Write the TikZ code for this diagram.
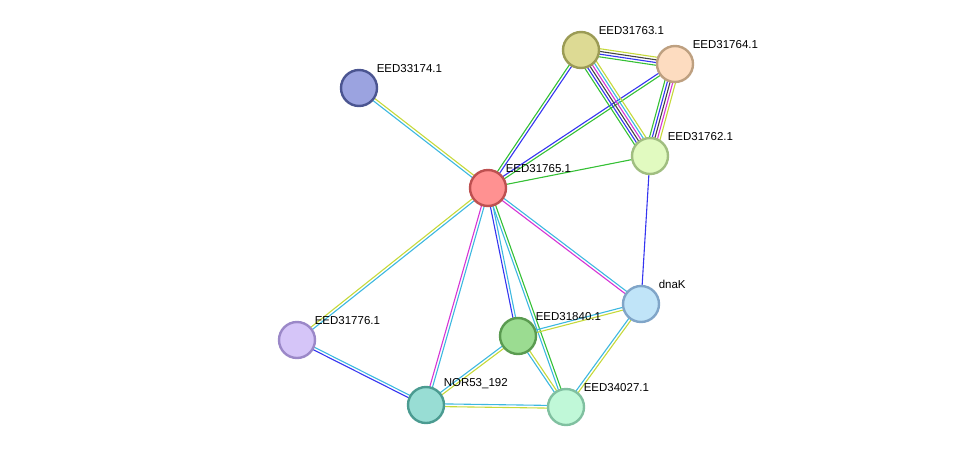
\documentclass[tikz,border=0pt]{standalone}
\usepackage{fontspec}
\setmainfont{Liberation Sans}
\usetikzlibrary{calc,backgrounds}
\definecolor{ey}{HTML}{C6D93A}
\definecolor{ec}{HTML}{3DB8E0}
\definecolor{eb}{HTML}{3535F0}
\definecolor{eg}{HTML}{35C035}
\definecolor{em}{HTML}{D535D5}
\definecolor{ek}{HTML}{444444}
\newcommand{\link}[4]{% from, to, count, colours
  \foreach \c [count=\i] in {#4}
    \draw[\c,line width=1.1pt]
      ($(#1)!{(\i-(#3+1)/2)*2.7pt}!90:(#2)$) --
      ($(#2)!{(\i-(#3+1)/2)*2.7pt}!-90:(#1)$);}
\begin{document}
\begin{tikzpicture}[x=1pt,y=-1pt,
    prot/.style={circle,draw,line width=2.4pt,minimum size=36pt,inner sep=0pt},
    lab/.style={font=\fontsize{11.5pt}{12pt}\selectfont,inner sep=1pt}]
  \useasboundingbox (0,0) rectangle (976,453);
  \node[prot,fill={rgb,255:red,255;green,145;blue,145},draw={rgb,255:red,190;green,80;blue,80}] (65) at (488,188)
    [label={[lab,xshift=3pt,yshift=1pt]above right:EED31765.1}] {};
  \node[prot,fill={rgb,255:red,155;green,163;blue,224},draw={rgb,255:red,75;green,85;blue,145}] (174) at (359,88)
    [label={[lab,xshift=3pt,yshift=1pt]above right:EED33174.1}] {};
  \node[prot,fill={rgb,255:red,221;green,218;blue,148},draw={rgb,255:red,155;green,155;blue,85}] (763) at (581,50)
    [label={[lab,xshift=3pt,yshift=1pt]above right:EED31763.1}] {};
  \node[prot,fill={rgb,255:red,253;green,220;blue,192},draw={rgb,255:red,190;green,160;blue,128}] (764) at (675,64)
    [label={[lab,xshift=3pt,yshift=1pt]above right:EED31764.1}] {};
  \node[prot,fill={rgb,255:red,225;green,250;blue,192},draw={rgb,255:red,160;green,190;blue,128}] (762) at (650,156)
    [label={[lab,xshift=3pt,yshift=1pt]above right:EED31762.1}] {};
  \node[prot,fill={rgb,255:red,192;green,228;blue,248},draw={rgb,255:red,128;green,165;blue,200}] (dnak) at (641,304)
    [label={[lab,xshift=3pt,yshift=1pt]above right:dnaK}] {};
  \node[prot,fill={rgb,255:red,155;green,220;blue,145},draw={rgb,255:red,90;green,155;blue,80}] (840) at (518,336)
    [label={[lab,xshift=3pt,yshift=1pt]above right:EED31840.1}] {};
  \node[prot,fill={rgb,255:red,213;green,197;blue,248},draw={rgb,255:red,155;green,136;blue,200}] (776) at (297,340)
    [label={[lab,xshift=3pt,yshift=1pt]above right:EED31776.1}] {};
  \node[prot,fill={rgb,255:red,152;green,221;blue,212},draw={rgb,255:red,75;green,155;blue,145}] (192) at (426,405)
    [label={[lab,xshift=3pt,yshift=1pt]above right:NOR53\_192}] {};
  \node[prot,fill={rgb,255:red,192;green,248;blue,216},draw={rgb,255:red,128;green,192;blue,160}] (027) at (566,407)
    [label={[lab,xshift=3pt,yshift=1pt]above right:EED34027.1}] {};
  \begin{pgfonlayer}{background}
    \link{65}{174}{2}{ey,ec}
    \link{65}{763}{2}{eb,eg}
    \link{65}{764}{2}{eg,eb}
    \link{65}{762}{1}{eg}
    \link{65}{776}{2}{ey,ec}
    \link{65}{192}{2}{em,ec}
    \link{65}{840}{2}{eb,ec}
    \link{65}{027}{2}{ec,eg}
    \link{65}{dnak}{2}{em,ec}
    \link{763}{764}{4}{eg,eb,ek,ey}
    \link{763}{762}{6}{eg,eb,ek,em,ec,ey}
    \link{764}{762}{5}{eg,eb,ek,em,ey}
    \link{762}{dnak}{1}{eb}
    \link{dnak}{840}{2}{ec,ey}
    \link{dnak}{027}{2}{ec,ey}
    \link{840}{192}{2}{ec,ey}
    \link{840}{027}{2}{ec,ey}
    \link{192}{027}{2}{ey,ec}
    \link{776}{192}{2}{eb,ec}
  \end{pgfonlayer}
\end{tikzpicture}
\end{document}
